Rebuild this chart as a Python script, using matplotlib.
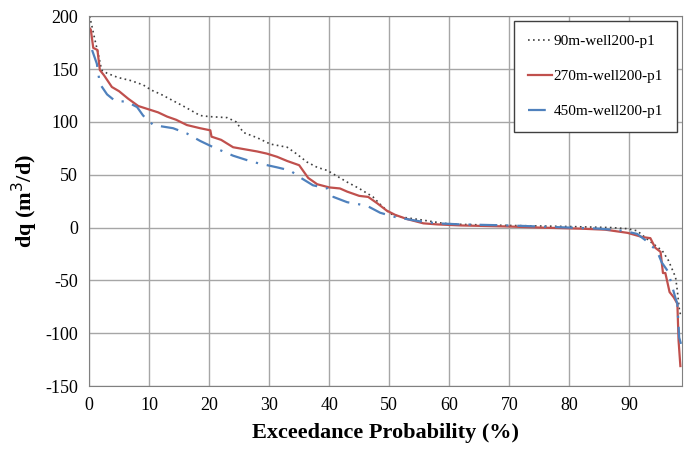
import matplotlib.pyplot as plt

plt.rcParams['font.family'] = ['Liberation Serif', 'DejaVu Serif']
plt.rcParams['axes.unicode_minus'] = False

# Exceedance curves (x in %, dq in m3/d)
x_90 = [0.1, 0.5, 1, 1.5, 2.1, 3, 4.8, 7, 9, 10.4, 12, 14, 16, 18.5, 20, 23, 24.5,
        25.7, 28, 30.2, 33, 34.5, 36.3, 38, 39.7, 41.8, 43, 45, 47.3, 48.5, 50.2,
        52, 55.7, 59, 62, 70, 80, 87, 89.5, 91.3, 93.2, 95.5, 96.5, 97.7, 98,
        98.3, 98.6]
dq_90 = [200, 190, 177, 165, 149, 146, 142, 139, 135, 130, 126, 120, 114, 106,
         105, 104, 100, 90, 85, 79, 76, 70, 62, 57, 54, 47, 43, 37, 29, 22, 13, 10,
         7, 4, 3, 2, 1, 0, -1, -3, -12, -22, -31, -47, -60, -76, -85]

x_270 = [0.2, 0.3, 0.7, 1.4, 1.8, 2.5, 3.8, 5, 6.5, 8.2, 10.4, 11.5, 13, 14.5,
         16.3, 18.5, 20.2, 20.4, 22, 24, 26, 28, 29.6, 31.3, 33, 35, 36.5, 38,
         40, 41.8, 43, 45, 46.5, 48, 49.6, 51, 53, 55.7, 58, 62, 70, 75, 81.8, 86,
         89.7, 92.2, 93.5, 94.3, 95.2, 95.6, 96, 96.7, 97.4, 98, 98.2, 98.5]
dq_270 = [188, 187, 170, 168, 149, 144, 133, 129, 122, 115, 111, 109, 105, 102,
          97, 94, 92, 86, 83, 76, 74, 72, 70, 67, 63, 59, 47, 41, 38, 37, 34, 30,
          29, 23, 16, 12, 8, 4, 3, 2, 1, 0, -1, -2, -5, -9, -10, -19, -23, -43,
          -43, -61, -66, -72, -107, -131]

x_450 = [0.5, 1.3, 1.8, 3, 4.3, 6.3, 8, 9, 10.7, 14, 16.3, 18.5, 20.7, 24, 27.3,
         31.3, 33.5, 35, 37.3, 39.7, 40.7, 43, 45, 46.5, 48.5, 51, 55, 58, 62,
         70, 75, 80, 85, 89, 91.3, 92.7, 94.6, 95.4, 96.5, 97, 97.7, 98, 98.3,
         98.6]
dq_450 = [168, 155, 136, 126, 120, 119, 114, 106, 97, 94, 89, 82, 76, 68, 62, 57,
          54, 48, 40, 37, 29, 24, 22, 20, 14, 10, 6, 4, 3, 2, 1, 0, -1, -3, -6,
          -12, -22, -33, -42, -53, -67, -72, -104, -110]

labels = ['90m-well200-p1', '270m-well200-p1', '450m-well200-p1']

fig, ax = plt.subplots(figsize=(6.85, 4.49), dpi=100)
fig.subplots_adjust(left=0.130, right=0.995, top=0.964, bottom=0.140)

ax.plot(x_90, dq_90, linestyle=(0, (1, 2)), color='#404040', linewidth=1.2, label=labels[0])
ax.plot(x_270, dq_270, linestyle='-', color='#C0504D', linewidth=1.6, label=labels[1])
ax.plot(x_450, dq_450, linestyle=(0, (8, 4, 1, 4)), color='#4F81BD', linewidth=1.6, label=labels[2])

ax.set_xlim(0, 98.7)
ax.set_ylim(-150, 200)
ax.set_xticks(range(0, 100, 10))
ax.set_yticks(range(-150, 201, 50))
ax.tick_params(length=0, labelsize=13, pad=8)
ax.grid(True, color='#A6A6A6', linewidth=1)
ax.set_axisbelow(True)
for s in ax.spines.values():
    s.set_color('#808080')

ax.set_xlabel('Exceedance Probability (%)', fontsize=16, fontweight='bold', labelpad=6)
ax.set_ylabel('dq (m$^3$/d)', fontsize=16, fontweight='bold', labelpad=4)

leg = ax.legend(loc='upper right', fontsize=11, fancybox=False, framealpha=1,
                edgecolor='#404040', labelspacing=1.4, handlelength=1.6,
                handletextpad=0.1, borderpad=0.9, borderaxespad=0.3)
leg.get_frame().set_linewidth(1)

plt.savefig('out.png', dpi=100)
